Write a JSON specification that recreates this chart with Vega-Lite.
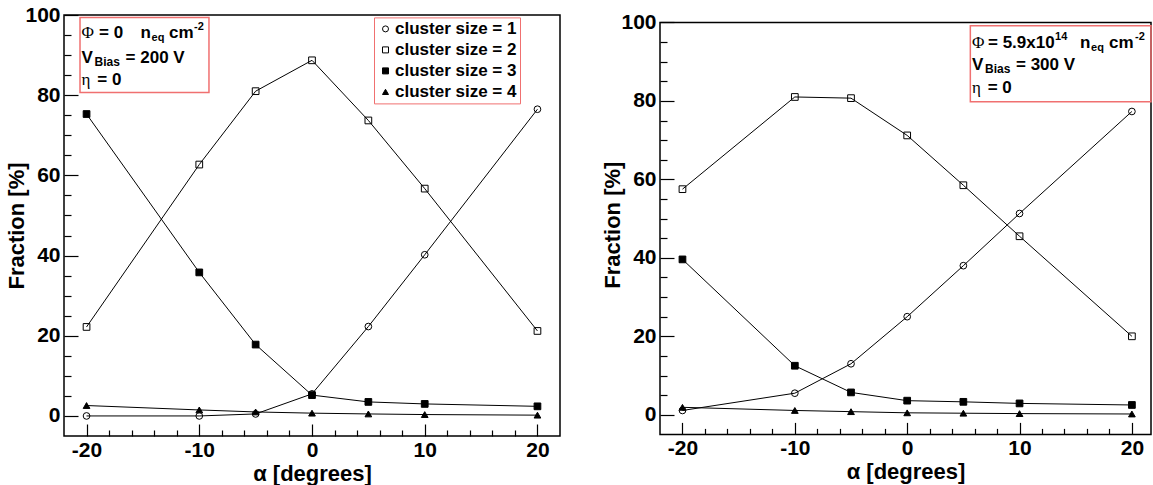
{
  "$schema": "https://vega.github.io/schema/vega-lite/v6.json",
  "padding": {"left": 5, "top": 3, "right": 0, "bottom": 0},
  "background": "white",
  "datasets": {
    "left": [
      {"alpha": -20, "series": "cluster size = 1", "frac": 0.0},
      {"alpha": -10, "series": "cluster size = 1", "frac": 0.0},
      {"alpha": -5, "series": "cluster size = 1", "frac": 0.5},
      {"alpha": 0, "series": "cluster size = 1", "frac": 5.5},
      {"alpha": 5, "series": "cluster size = 1", "frac": 22.3},
      {"alpha": 10, "series": "cluster size = 1", "frac": 40.2},
      {"alpha": 20, "series": "cluster size = 1", "frac": 76.5},
      {"alpha": -20, "series": "cluster size = 2", "frac": 22.2},
      {"alpha": -10, "series": "cluster size = 2", "frac": 62.7},
      {"alpha": -5, "series": "cluster size = 2", "frac": 81.0},
      {"alpha": 0, "series": "cluster size = 2", "frac": 88.7},
      {"alpha": 5, "series": "cluster size = 2", "frac": 73.7},
      {"alpha": 10, "series": "cluster size = 2", "frac": 56.7},
      {"alpha": 20, "series": "cluster size = 2", "frac": 21.2},
      {"alpha": -20, "series": "cluster size = 3", "frac": 75.3},
      {"alpha": -10, "series": "cluster size = 3", "frac": 35.8},
      {"alpha": -5, "series": "cluster size = 3", "frac": 17.8},
      {"alpha": 0, "series": "cluster size = 3", "frac": 5.2},
      {"alpha": 5, "series": "cluster size = 3", "frac": 3.5},
      {"alpha": 10, "series": "cluster size = 3", "frac": 3.0},
      {"alpha": 20, "series": "cluster size = 3", "frac": 2.4},
      {"alpha": -20, "series": "cluster size = 4", "frac": 2.6},
      {"alpha": -10, "series": "cluster size = 4", "frac": 1.5},
      {"alpha": -5, "series": "cluster size = 4", "frac": 1.0},
      {"alpha": 0, "series": "cluster size = 4", "frac": 0.7},
      {"alpha": 5, "series": "cluster size = 4", "frac": 0.5},
      {"alpha": 10, "series": "cluster size = 4", "frac": 0.35},
      {"alpha": 20, "series": "cluster size = 4", "frac": 0.2}
    ],
    "right": [
      {"alpha": -20, "series": "cluster size = 1", "frac": 1.1},
      {"alpha": -10, "series": "cluster size = 1", "frac": 5.5},
      {"alpha": -5, "series": "cluster size = 1", "frac": 13.0},
      {"alpha": 0, "series": "cluster size = 1", "frac": 25.0},
      {"alpha": 5, "series": "cluster size = 1", "frac": 38.0},
      {"alpha": 10, "series": "cluster size = 1", "frac": 51.3},
      {"alpha": 20, "series": "cluster size = 1", "frac": 77.3},
      {"alpha": -20, "series": "cluster size = 2", "frac": 57.5},
      {"alpha": -10, "series": "cluster size = 2", "frac": 81.0},
      {"alpha": -5, "series": "cluster size = 2", "frac": 80.7},
      {"alpha": 0, "series": "cluster size = 2", "frac": 71.2},
      {"alpha": 5, "series": "cluster size = 2", "frac": 58.5},
      {"alpha": 10, "series": "cluster size = 2", "frac": 45.5},
      {"alpha": 20, "series": "cluster size = 2", "frac": 20.0},
      {"alpha": -20, "series": "cluster size = 3", "frac": 39.6},
      {"alpha": -10, "series": "cluster size = 3", "frac": 12.5},
      {"alpha": -5, "series": "cluster size = 3", "frac": 5.7},
      {"alpha": 0, "series": "cluster size = 3", "frac": 3.6},
      {"alpha": 5, "series": "cluster size = 3", "frac": 3.3},
      {"alpha": 10, "series": "cluster size = 3", "frac": 2.9},
      {"alpha": 20, "series": "cluster size = 3", "frac": 2.5},
      {"alpha": -20, "series": "cluster size = 4", "frac": 1.9},
      {"alpha": -10, "series": "cluster size = 4", "frac": 1.1},
      {"alpha": -5, "series": "cluster size = 4", "frac": 0.8},
      {"alpha": 0, "series": "cluster size = 4", "frac": 0.5},
      {"alpha": 5, "series": "cluster size = 4", "frac": 0.4},
      {"alpha": 10, "series": "cluster size = 4", "frac": 0.3},
      {"alpha": 20, "series": "cluster size = 4", "frac": 0.2}
    ]
  },
  "spacing": 40,
  "resolve": {"scale": {"shape": "independent", "fill": "independent", "x": "independent", "y": "independent"}},
  "hconcat": [
    {
      "width": 496,
      "height": 421,
      "resolve": {"axis": {"x": "independent", "y": "independent"}},
      "layer": [
        {
          "data": {"name": "left"},
          "mark": {"type": "line", "color": "black", "strokeWidth": 1},
          "encoding": {
            "x": {"field": "alpha", "type": "quantitative", "scale": {"domain": [-22, 22], "nice": false, "zero": false},
                  "axis": {"orient": "bottom", "values": [-20, -10, 0, 10, 20], "labelExpr": "'' + datum.value", "tickSize": -12, "labelPadding": 15, "title": "α [degrees]", "titlePadding": 3}},
            "y": {"field": "frac", "type": "quantitative", "scale": {"domain": [-5, 100], "nice": false, "zero": false},
                  "axis": {"orient": "left", "values": [0, 20, 40, 60, 80, 100], "tickSize": -14, "labelPadding": 18, "title": "Fraction [%]", "titlePadding": -4}},
            "detail": {"field": "series", "type": "nominal"}
          }
        },
        {
          "data": {"name": "left"},
          "mark": {"type": "point", "filled": false, "stroke": "black", "strokeWidth": 1, "size": 45, "opacity": 1},
          "encoding": {
            "x": {"field": "alpha", "type": "quantitative",
                  "axis": {"orient": "bottom", "values": [-18, -16, -14, -12, -8, -6, -4, -2, 2, 4, 6, 8, 12, 14, 16, 18], "tickSize": -6, "labels": false, "title": null}},
            "y": {"field": "frac", "type": "quantitative",
                  "axis": {"orient": "left", "values": [5, 10, 15, 25, 30, 35, 45, 50, 55, 65, 70, 75, 85, 90, 95], "tickSize": -7, "labels": false, "title": null}},
            "shape": {"field": "series", "type": "nominal",
                      "scale": {"domain": ["cluster size = 1", "cluster size = 2", "cluster size = 3", "cluster size = 4"], "range": ["circle", "square", "square", "triangle-up"]},
                      "legend": {"title": null, "orient": "none", "legendX": 310, "legendY": 2.4, "strokeColor": "#f07070", "padding": 3, "rowPadding": 3, "symbolSize": 36, "symbolStrokeWidth": 1, "labelFont": "Liberation Sans", "labelFontWeight": "bold", "labelFontSize": 17, "labelColor": "black", "labelOffset": 1}},
            "fill": {"field": "series", "type": "nominal",
                     "scale": {"domain": ["cluster size = 1", "cluster size = 2", "cluster size = 3", "cluster size = 4"], "range": ["transparent", "transparent", "black", "black"]},
                     "legend": {"title": null, "orient": "none", "legendX": 310, "legendY": 2.4, "strokeColor": "#f07070", "padding": 3, "rowPadding": 3, "symbolSize": 36, "symbolStrokeWidth": 1, "labelFont": "Liberation Sans", "labelFontWeight": "bold", "labelFontSize": 17, "labelColor": "black", "labelOffset": 1}}
          }
        },
        {
          "data": {"values": [{}]},
          "mark": {"type": "rect", "fill": "transparent", "stroke": "#f07070", "strokeWidth": 1.5},
          "encoding": {"x": {"datum": -20.58, "axis": null}, "x2": {"datum": -9.14}, "y": {"datum": 99.4, "axis": null}, "y2": {"datum": 80.7}}
        },
        {"data": {"values": [{}]}, "mark": {"type": "text", "text": "Φ", "font": "Liberation Serif", "fontWeight": "normal", "dx": 0},
         "encoding": {"x": {"datum": -20.44, "axis": null}, "y": {"datum": 94.16, "axis": null}}},
        {"data": {"values": [{}]}, "mark": {"type": "text", "text": "= 0", "dx": 17.4},
         "encoding": {"x": {"datum": -20.44, "axis": null}, "y": {"datum": 94.16, "axis": null}}},
        {"data": {"values": [{}]}, "mark": {"type": "text", "text": "n", "dx": 59},
         "encoding": {"x": {"datum": -20.44, "axis": null}, "y": {"datum": 94.16, "axis": null}}},
        {"data": {"values": [{}]}, "mark": {"type": "text", "text": "eq", "fontSize": 11, "dx": 70, "dy": 3},
         "encoding": {"x": {"datum": -20.44, "axis": null}, "y": {"datum": 94.16, "axis": null}}},
        {"data": {"values": [{}]}, "mark": {"type": "text", "text": "cm", "dx": 87.4},
         "encoding": {"x": {"datum": -20.44, "axis": null}, "y": {"datum": 94.16, "axis": null}}},
        {"data": {"values": [{}]}, "mark": {"type": "text", "text": "-2", "fontSize": 11, "dx": 112.4, "dy": -8},
         "encoding": {"x": {"datum": -20.44, "axis": null}, "y": {"datum": 94.16, "axis": null}}},
        {"data": {"values": [{}]}, "mark": {"type": "text", "text": "V", "dx": 0},
         "encoding": {"x": {"datum": -20.44, "axis": null}, "y": {"datum": 87.93, "axis": null}}},
        {"data": {"values": [{}]}, "mark": {"type": "text", "text": "Bias", "fontSize": 12, "dx": 13, "dy": 3},
         "encoding": {"x": {"datum": -20.44, "axis": null}, "y": {"datum": 87.93, "axis": null}}},
        {"data": {"values": [{}]}, "mark": {"type": "text", "text": "= 200 V", "dx": 44},
         "encoding": {"x": {"datum": -20.44, "axis": null}, "y": {"datum": 87.93, "axis": null}}},
        {"data": {"values": [{}]}, "mark": {"type": "text", "text": "η", "font": "Liberation Serif", "fontWeight": "normal", "dx": 0},
         "encoding": {"x": {"datum": -20.44, "axis": null}, "y": {"datum": 82.62, "axis": null}}},
        {"data": {"values": [{}]}, "mark": {"type": "text", "text": "= 0", "dx": 15.7},
         "encoding": {"x": {"datum": -20.44, "axis": null}, "y": {"datum": 82.62, "axis": null}}}
      ]
    },
    {
      "width": 491,
      "height": 419.4,
      "view": {"stroke": null},
      "resolve": {"axis": {"x": "independent", "y": "independent"}},
      "layer": [
        {
          "data": {"values": [{}]},
          "mark": {"type": "rect", "fill": "transparent", "stroke": "black", "strokeWidth": 1.5},
          "encoding": {"x": {"datum": -22, "axis": null}, "x2": {"datum": 21.7}, "y": {"datum": 100, "axis": null}, "y2": {"datum": -5}}
        },
        {
          "data": {"name": "right"},
          "mark": {"type": "line", "color": "black", "strokeWidth": 1},
          "encoding": {
            "x": {"field": "alpha", "type": "quantitative", "scale": {"domain": [-22, 21.7], "nice": false, "zero": false},
                  "axis": {"orient": "bottom", "values": [-20, -10, 0, 10, 20], "labelExpr": "'' + datum.value", "tickSize": -12, "labelPadding": 15, "title": "α [degrees]", "titlePadding": 3}},
            "y": {"field": "frac", "type": "quantitative", "scale": {"domain": [-5, 101.89], "nice": false, "zero": false},
                  "axis": {"orient": "left", "values": [0, 20, 40, 60, 80, 100], "tickSize": -14, "labelPadding": 18, "title": "Fraction [%]", "titlePadding": -4}},
            "detail": {"field": "series", "type": "nominal"}
          }
        },
        {
          "data": {"name": "right"},
          "mark": {"type": "point", "filled": false, "stroke": "black", "strokeWidth": 1, "size": 45, "opacity": 1},
          "encoding": {
            "x": {"field": "alpha", "type": "quantitative",
                  "axis": {"orient": "bottom", "values": [-18, -16, -14, -12, -8, -6, -4, -2, 2, 4, 6, 8, 12, 14, 16, 18], "tickSize": -6, "labels": false, "title": null}},
            "y": {"field": "frac", "type": "quantitative",
                  "axis": {"orient": "left", "values": [5, 10, 15, 25, 30, 35, 45, 50, 55, 65, 70, 75, 85, 90, 95], "tickSize": -7, "labels": false, "title": null}},
            "shape": {"field": "series", "type": "nominal",
                      "scale": {"domain": ["cluster size = 1", "cluster size = 2", "cluster size = 3", "cluster size = 4"], "range": ["circle", "square", "square", "triangle-up"]},
                      "legend": null},
            "fill": {"field": "series", "type": "nominal",
                     "scale": {"domain": ["cluster size = 1", "cluster size = 2", "cluster size = 3", "cluster size = 4"], "range": ["transparent", "transparent", "black", "black"]},
                     "legend": null}
          }
        },
        {
          "data": {"values": [{}]},
          "mark": {"type": "rect", "fill": "transparent", "stroke": "#f07070", "strokeWidth": 1.5},
          "encoding": {"x": {"datum": 5.62, "axis": null}, "x2": {"datum": 21.7}, "y": {"datum": 99.16, "axis": null}, "y2": {"datum": 79.79}}
        },
        {"data": {"values": [{}]}, "mark": {"type": "text", "text": "Φ", "font": "Liberation Serif", "fontWeight": "normal", "dx": 0},
         "encoding": {"x": {"datum": 5.77, "axis": null}, "y": {"datum": 93.55, "axis": null}}},
        {"data": {"values": [{}]}, "mark": {"type": "text", "text": "= 5.9x10", "dx": 16},
         "encoding": {"x": {"datum": 5.77, "axis": null}, "y": {"datum": 93.55, "axis": null}}},
        {"data": {"values": [{}]}, "mark": {"type": "text", "text": "14", "fontSize": 11, "dx": 83, "dy": -8},
         "encoding": {"x": {"datum": 5.77, "axis": null}, "y": {"datum": 93.55, "axis": null}}},
        {"data": {"values": [{}]}, "mark": {"type": "text", "text": "n", "dx": 108},
         "encoding": {"x": {"datum": 5.77, "axis": null}, "y": {"datum": 93.55, "axis": null}}},
        {"data": {"values": [{}]}, "mark": {"type": "text", "text": "eq", "fontSize": 11, "dx": 119, "dy": 3},
         "encoding": {"x": {"datum": 5.77, "axis": null}, "y": {"datum": 93.55, "axis": null}}},
        {"data": {"values": [{}]}, "mark": {"type": "text", "text": "cm", "dx": 137},
         "encoding": {"x": {"datum": 5.77, "axis": null}, "y": {"datum": 93.55, "axis": null}}},
        {"data": {"values": [{}]}, "mark": {"type": "text", "text": "-2", "fontSize": 11, "dx": 163, "dy": -8},
         "encoding": {"x": {"datum": 5.77, "axis": null}, "y": {"datum": 93.55, "axis": null}}},
        {"data": {"values": [{}]}, "mark": {"type": "text", "text": "V", "dx": 0},
         "encoding": {"x": {"datum": 5.77, "axis": null}, "y": {"datum": 87.87, "axis": null}}},
        {"data": {"values": [{}]}, "mark": {"type": "text", "text": "Bias", "fontSize": 12, "dx": 13, "dy": 3},
         "encoding": {"x": {"datum": 5.77, "axis": null}, "y": {"datum": 87.87, "axis": null}}},
        {"data": {"values": [{}]}, "mark": {"type": "text", "text": "= 300 V", "dx": 44},
         "encoding": {"x": {"datum": 5.77, "axis": null}, "y": {"datum": 87.87, "axis": null}}},
        {"data": {"values": [{}]}, "mark": {"type": "text", "text": "η", "font": "Liberation Serif", "fontWeight": "normal", "dx": 0},
         "encoding": {"x": {"datum": 5.77, "axis": null}, "y": {"datum": 82.08, "axis": null}}},
        {"data": {"values": [{}]}, "mark": {"type": "text", "text": "= 0", "dx": 15.7},
         "encoding": {"x": {"datum": 5.77, "axis": null}, "y": {"datum": 82.08, "axis": null}}}
      ]
    }
  ],
  "config": {
    "font": "Liberation Sans",
    "view": {"stroke": "black", "strokeWidth": 1.5},
    "axis": {"domain": false, "grid": false, "tickColor": "black", "tickWidth": 1.2, "labelFont": "Liberation Sans", "labelFontWeight": "bold", "labelFontSize": 21, "labelColor": "black", "titleFont": "Liberation Sans", "titleFontWeight": "bold", "titleFontSize": 22, "titleColor": "black", "labelFlush": false},
    "text": {"font": "Liberation Sans", "fontWeight": "bold", "fontSize": 17, "color": "black", "align": "left", "baseline": "alphabetic"}
  }
}
